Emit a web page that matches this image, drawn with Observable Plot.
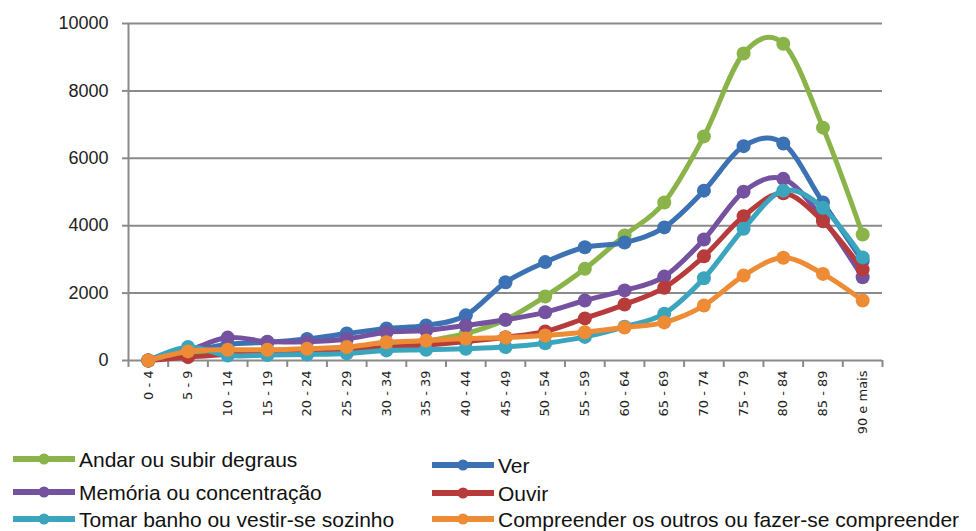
<!DOCTYPE html>
<html><head><meta charset="utf-8">
<script src="https://cdn.jsdelivr.net/npm/d3@7"></script>
<script src="https://cdn.jsdelivr.net/npm/@observablehq/plot@0.6"></script>
<style>
body{margin:0;background:#fff;width:976px;height:531px;overflow:hidden;position:relative;font-family:"Liberation Sans",Arial,sans-serif}
#chart{position:absolute;left:0;top:0}
.item{position:absolute;display:flex;align-items:center;font-size:21px;color:#111;white-space:nowrap;line-height:1}
.item svg{margin-right:4px}
</style></head><body>
<div id="chart"></div><div id="legend"></div>
<script>
const ages = ["0 - 4","5 - 9","10 - 14","15 - 19","20 - 24","25 - 29","30 - 34","35 - 39","40 - 44","45 - 49","50 - 54","55 - 59","60 - 64","65 - 69","70 - 74","75 - 79","80 - 84","85 - 89","90 e mais"];
const yTicks = [0, 2000, 4000, 6000, 8000, 10000];

const seriesNames = ["Andar ou subir degraus","Ver","Memória ou concentração","Ouvir","Tomar banho ou vestir-se sozinho","Compreender os outros ou fazer-se compreender"];
const seriesColors = ["#8AB44A","#3C72B3","#7552A0","#B83B3B","#3CA5BE","#EE8C36"];

const andar       = [0,150,230,250,300,400,480,580,800,1210,1900,2720,3710,4690,6650,9110,9400,6910,3740];
const ver         = [0,250,480,540,640,800,950,1040,1340,2320,2920,3360,3500,3950,5040,6360,6440,4690,2950];
const memoria     = [0,300,680,560,560,640,840,890,1040,1210,1430,1780,2080,2490,3590,5010,5390,4200,2470];
const ouvir       = [0,100,180,200,250,300,380,450,560,690,860,1250,1660,2160,3090,4280,4960,4130,2700];
const tomar       = [0,400,150,160,180,210,300,320,350,400,510,700,1000,1390,2440,3910,5040,4530,3060];
const compreender = [0,270,320,320,350,400,540,590,650,680,740,840,980,1130,1630,2520,3050,2570,1780];

const seriesValues = [andar, ver, memoria, ouvir, tomar, compreender];

const idx = ages.map((d, i) => i);
const bounds = d3.range(-0.5, ages.length, 1);
const gray = "#8a8a8a";

const seriesMarks = seriesValues.flatMap((vals, s) => {
  const rows = vals.map((v, i) => ({i, v, name: seriesNames[s]}));
  return [
    Plot.line(rows, {x: "i", y: "v", stroke: seriesColors[s], strokeWidth: 5, curve: "cardinal"}),
    Plot.dot(rows, {x: "i", y: "v", fill: seriesColors[s], r: 7})
  ];
});

const chart = Plot.plot({
  width: 976, height: 442,
  marginLeft: 128, marginRight: 94, marginTop: 23, marginBottom: 82,
  x: {type: "linear", domain: [-0.5, ages.length - 0.5]},
  y: {domain: [0, 10000]},
  style: {background: "white", color: "#222", fontFamily: "DejaVu Sans", fontSize: "13px"},
  marks: [
    Plot.gridY(yTicks.filter(d => d > 0), {stroke: gray, strokeWidth: 2, strokeOpacity: 1}),
    Plot.axisY({ticks: yTicks, tickSize: 6, tickPadding: 14, stroke: gray, strokeWidth: 2, label: null,
      tickFormat: d => String(d), fontSize: 18, fontFamily: "Liberation Sans", fill: "#222"}),
    Plot.ruleX([-0.5], {stroke: gray, strokeWidth: 2}),
    Plot.ruleY([0], {stroke: gray, strokeWidth: 2}),
    Plot.axisX({ticks: bounds, tickSize: 7, tickFormat: () => "", stroke: gray, strokeWidth: 2, label: null}),
    Plot.axisX({ticks: idx, tickSize: 0, tickPadding: 10, tickRotate: -90, tickFormat: i => ages[i], label: null,
      fill: "#222", fontSize: 13, fontFamily: "DejaVu Sans"}),
    ...seriesMarks
  ]
});
document.getElementById("chart").appendChild(chart);

// legend
const legendPos = [
  {left: 13, top: 459}, {left: 432, top: 465},
  {left: 13, top: 492}, {left: 432, top: 493},
  {left: 13, top: 519}, {left: 432, top: 519}
];
const legend = document.getElementById("legend");
seriesNames.forEach((name, s) => {
  const p = legendPos[s];
  const div = document.createElement("div");
  div.className = "item";
  div.style.left = p.left + "px";
  div.style.top = (p.top - 11) + "px";
  div.style.height = "22px";
  div.innerHTML = `<svg width="62" height="14"><line x1="1" x2="61" y1="7" y2="7" stroke="${seriesColors[s]}" stroke-width="6" stroke-linecap="round"/><circle cx="31" cy="7" r="5.5" fill="${seriesColors[s]}"/></svg><span>${name}</span>`;
  legend.appendChild(div);
});
</script></body></html>
